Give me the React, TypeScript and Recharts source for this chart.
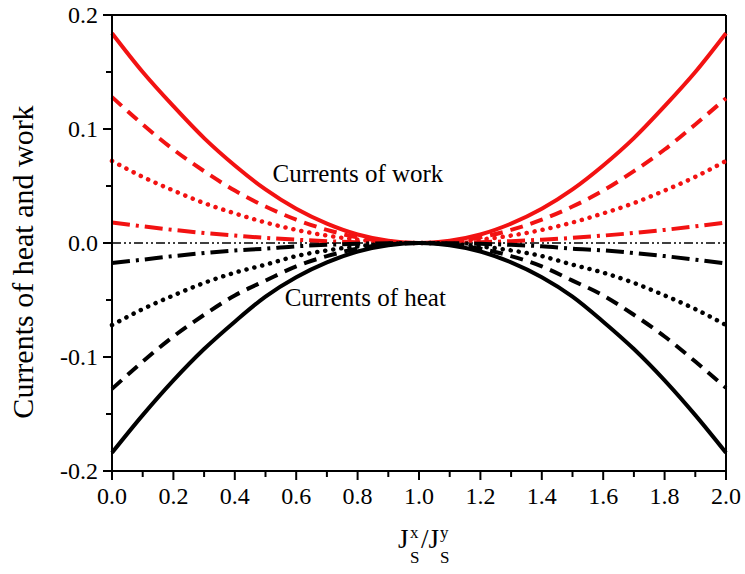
import { LineChart, Line, XAxis, YAxis, ReferenceLine, ReferenceDot, Label } from 'recharts';

const ratio = [0, 0.1, 0.2, 0.3, 0.4, 0.5, 0.6, 0.7, 0.8, 0.9, 1.0, 1.1, 1.2, 1.3, 1.4, 1.5, 1.6, 1.7, 1.8, 1.9, 2.0];

// currents of work (red)
const workSolid = [0.184, 0.150, 0.120, 0.092, 0.068, 0.047, 0.030, 0.017, 0.0075, 0.002, 0, 0.002, 0.0075, 0.017, 0.030, 0.047, 0.068, 0.092, 0.120, 0.150, 0.184];
const workDash = [0.128, 0.104, 0.082, 0.063, 0.046, 0.032, 0.0205, 0.0115, 0.005, 0.0013, 0, 0.0013, 0.005, 0.0115, 0.0205, 0.032, 0.046, 0.063, 0.082, 0.104, 0.127];
const workDot = [0.072, 0.058, 0.046, 0.035, 0.026, 0.018, 0.0115, 0.0065, 0.003, 0.0007, 0, 0.0007, 0.003, 0.0065, 0.0115, 0.018, 0.026, 0.035, 0.046, 0.058, 0.072];
const workDashDot = [0.018, 0.0146, 0.0115, 0.0088, 0.0065, 0.0045, 0.0029, 0.0016, 0.0007, 0.0002, 0, 0.0002, 0.0007, 0.0016, 0.0029, 0.0045, 0.0065, 0.0088, 0.0115, 0.0146, 0.018];

// currents of heat (black)
const heatSolid = [-0.184, -0.151, -0.1205, -0.093, -0.069, -0.047, -0.030, -0.017, -0.0075, -0.002, 0, -0.002, -0.0075, -0.017, -0.030, -0.047, -0.069, -0.093, -0.1205, -0.151, -0.184];
const heatDash = [-0.128, -0.104, -0.082, -0.063, -0.046, -0.033, -0.0205, -0.0115, -0.005, -0.0013, 0, -0.0013, -0.005, -0.0115, -0.0205, -0.033, -0.046, -0.063, -0.082, -0.104, -0.127];
const heatDot = [-0.072, -0.058, -0.046, -0.035, -0.026, -0.019, -0.0115, -0.0065, -0.003, -0.0007, 0, -0.0007, -0.003, -0.0065, -0.0115, -0.019, -0.026, -0.035, -0.046, -0.058, -0.072];
const heatDashDot = [-0.0175, -0.0146, -0.0115, -0.0088, -0.0065, -0.005, -0.0029, -0.0016, -0.0007, -0.0002, 0, -0.0002, -0.0007, -0.0016, -0.0029, -0.005, -0.0065, -0.0088, -0.0115, -0.0146, -0.018];

const xTicks = [0, 0.1, 0.2, 0.3, 0.4, 0.5, 0.6, 0.7, 0.8, 0.9, 1.0, 1.1, 1.2, 1.3, 1.4, 1.5, 1.6, 1.7, 1.8, 1.9, 2.0];
const xLabels = ['0.0', '', '0.2', '', '0.4', '', '0.6', '', '0.8', '', '1.0', '', '1.2', '', '1.4', '', '1.6', '', '1.8', '', '2.0'];
const yTicks = [-0.2, -0.15, -0.1, -0.05, 0, 0.05, 0.1, 0.15, 0.2];
const yLabels = ['-0.2', '', '-0.1', '', '0.0', '', '0.1', '', '0.2'];

const data = ratio.map((x, i) => ({
  x,
  w1: workSolid[i],
  w2: workDash[i],
  w3: workDot[i],
  w4: workDashDot[i],
  h1: heatSolid[i],
  h2: heatDash[i],
  h3: heatDot[i],
  h4: heatDashDot[i],
}));

const FONT = '"Liberation Serif", "Times New Roman", serif';
const RED = '#f21212';

function XTick(props: any) {
  const { x, y, index } = props;
  const label = xLabels[index];
  return (
    <g>
      <line x1={x} y1={y} x2={x} y2={y + (label ? 9 : 6)} stroke="#000" strokeWidth={2} />
      {label && (
        <text x={x} y={y + 33} textAnchor="middle" fontFamily={FONT} fontSize={24} fill="#000">
          {label}
        </text>
      )}
    </g>
  );
}

function YTick(props: any) {
  const { x, y, index } = props;
  const label = yLabels[index];
  return (
    <g>
      <line x1={x} y1={y} x2={x - (label ? 9 : 6)} y2={y} stroke="#000" strokeWidth={2} />
      {label && (
        <text x={x - 14} y={y + 8} textAnchor="end" fontFamily={FONT} fontSize={24} fill="#000">
          {label}
        </text>
      )}
    </g>
  );
}

function XTitle(props: any) {
  const { viewBox } = props;
  const cx = viewBox.x + viewBox.width / 2;
  const base = viewBox.y + 77;
  return (
    <g fontFamily={FONT} fill="#000">
      <text x={cx - 21} y={base} fontSize={27}>J</text>
      <text x={cx - 9} y={base - 10} fontSize={17}>x</text>
      <text x={cx - 9} y={base + 15} fontSize={17}>S</text>
      <text x={cx + 2} y={base} fontSize={27}>/J</text>
      <text x={cx + 21} y={base - 10} fontSize={17}>y</text>
      <text x={cx + 21} y={base + 15} fontSize={17}>S</text>
    </g>
  );
}

function YTitle(props: any) {
  const { viewBox } = props;
  const cy = viewBox.y + viewBox.height / 2 + 19;
  return (
    <text
      x={22}
      y={cy}
      transform={`rotate(-90, 22, ${cy})`}
      textAnchor="middle"
      dominantBaseline="central"
      fontFamily={FONT}
      fontSize={30}
      fill="#000"
    >
      Currents of heat and work
    </text>
  );
}

function note(text: string) {
  return (props: any) => {
    const { viewBox } = props;
    return (
      <text x={viewBox.x} y={viewBox.y + 8.5} fontFamily={FONT} fontSize={25} fill="#000">
        {text}
      </text>
    );
  };
}

export default function App() {
  return (
    <div style={{ position: 'absolute', left: 0, top: 0, background: '#fff' }}>
      <LineChart width={745} height={574} data={data} margin={{ top: 15, right: 19, bottom: 43, left: 0 }}>
        <XAxis
          dataKey="x"
          type="number"
          domain={[0, 2]}
          ticks={xTicks}
          interval={0}
          tickSize={0}
          tickMargin={0}
          tickLine={false}
          tick={<XTick />}
          height={60}
          axisLine={{ stroke: '#000', strokeWidth: 2 }}
        >
          <Label content={<XTitle />} />
        </XAxis>
        <YAxis
          type="number"
          domain={[-0.2, 0.2]}
          ticks={yTicks}
          interval={0}
          tickSize={0}
          tickMargin={0}
          tickLine={false}
          tick={<YTick />}
          width={112}
          axisLine={{ stroke: '#000', strokeWidth: 2 }}
        >
          <Label content={<YTitle />} />
        </YAxis>
        <ReferenceLine y={0.2} stroke="#000" strokeWidth={2} />
        <ReferenceLine x={2} stroke="#000" strokeWidth={2} />
        <ReferenceLine y={0} stroke="#000" strokeWidth={1.5} strokeDasharray="9 3 2 3 2 3" />

        <Line dataKey="w4" type="monotone" stroke={RED} strokeWidth={4} strokeDasharray="18 6 3 6" dot={false} isAnimationActive={false} />
        <Line dataKey="w3" type="monotone" stroke={RED} strokeWidth={4.5} strokeDasharray="0.1 8" strokeLinecap="round" dot={false} isAnimationActive={false} />
        <Line dataKey="w2" type="monotone" stroke={RED} strokeWidth={4} strokeDasharray="13 8" dot={false} isAnimationActive={false} />
        <Line dataKey="w1" type="monotone" stroke={RED} strokeWidth={4} dot={false} isAnimationActive={false} />

        <Line dataKey="h4" type="monotone" stroke="#000" strokeWidth={4} strokeDasharray="18 6 3 6" dot={false} isAnimationActive={false} />
        <Line dataKey="h3" type="monotone" stroke="#000" strokeWidth={4.5} strokeDasharray="0.1 8" strokeLinecap="round" dot={false} isAnimationActive={false} />
        <Line dataKey="h2" type="monotone" stroke="#000" strokeWidth={4} strokeDasharray="13 8" dot={false} isAnimationActive={false} />
        <Line dataKey="h1" type="monotone" stroke="#000" strokeWidth={4} dot={false} isAnimationActive={false} />

        <ReferenceDot x={0.523} y={0.061} r={0} fill="none" stroke="none" label={note('Currents of work')} />
        <ReferenceDot x={0.563} y={-0.048} r={0} fill="none" stroke="none" label={note('Currents of heat')} />
      </LineChart>
    </div>
  );
}
